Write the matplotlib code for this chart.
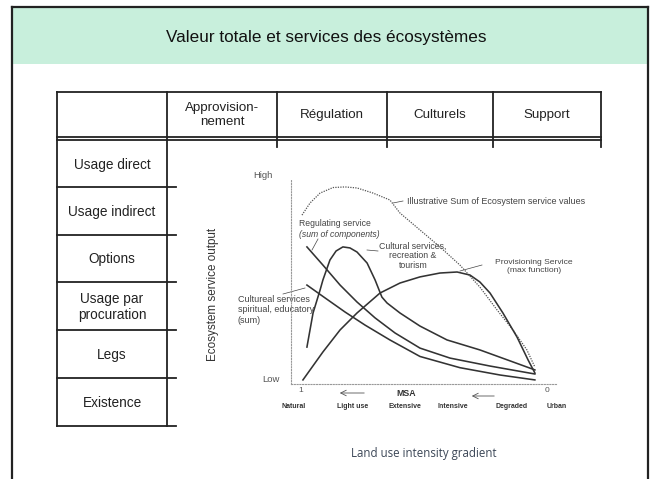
import matplotlib as mpl
import matplotlib.pyplot as plt

# table text
col_labels = ['Approvision-\nnement', 'Régulation', 'Culturels', 'Support']
row_labels = ['Usage direct', 'Usage indirect', 'Options',
              'Usage par\nprocuration', 'Legs', 'Existence']

# curves (x: land use intensity 0..1, y: output 0..1)
sum_x = [0.0, 0.034, 0.077, 0.132, 0.183, 0.234, 0.302, 0.374, 0.417, 0.502,
         0.587, 0.672, 0.757, 0.83, 0.898, 0.957, 0.991]
sum_y = [0.828, 0.887, 0.936, 0.963, 0.966, 0.961, 0.936, 0.902, 0.838, 0.755,
         0.672, 0.583, 0.475, 0.363, 0.265, 0.167, 0.083]

prov_x = [0.004, 0.089, 0.162, 0.234, 0.332, 0.417, 0.502, 0.587, 0.66, 0.715,
          0.757, 0.8, 0.855, 0.915, 0.962, 0.991]
prov_y = [0.02, 0.157, 0.265, 0.348, 0.446, 0.495, 0.525, 0.544, 0.549, 0.534,
          0.5, 0.446, 0.348, 0.23, 0.118, 0.054]

reg_x = [0.021, 0.089, 0.162, 0.234, 0.311, 0.396, 0.502, 0.63, 0.8, 0.991]
reg_y = [0.672, 0.583, 0.485, 0.402, 0.324, 0.25, 0.176, 0.127, 0.088, 0.049]

spir_x = [0.021, 0.098, 0.183, 0.268, 0.374, 0.502, 0.672, 0.843, 0.991]
spir_y = [0.485, 0.422, 0.353, 0.289, 0.216, 0.135, 0.08, 0.044, 0.02]

rec_x = [0.021, 0.047, 0.077, 0.089, 0.119, 0.145, 0.174, 0.204, 0.234, 0.277,
         0.311, 0.34, 0.362, 0.417, 0.502, 0.617, 0.757, 0.898, 0.991]
rec_y = [0.181, 0.348, 0.461, 0.51, 0.608, 0.652, 0.672, 0.667, 0.647, 0.593,
         0.51, 0.426, 0.397, 0.348, 0.284, 0.216, 0.167, 0.108, 0.069]

intensity = ['Natural', 'Light use', 'Extensive', 'Intensive', 'Degraded', 'Urban']

mpl.rcParams['font.family'] = 'Liberation Sans'

W, H = 651, 479
fig = plt.figure(figsize=(W / 100, H / 100), dpi=100)

# slide layer in pixel coords
bg = fig.add_axes([0, 0, 1, 1])
bg.set_xlim(0, W)
bg.set_ylim(H, 0)
bg.axis('off')

bg.fill_between([12, 648], 8, 64, color='#c8efdc', lw=0)
bg.plot([12, 648], [7, 7], color='#222', lw=1.6)
bg.plot([12, 12], [7, H], color='#222', lw=1.6)
bg.plot([648, 648], [7, H], color='#222', lw=1.6)
bg.text(326, 37, 'Valeur totale et services des écosystèmes',
        ha='center', va='center', fontsize=12.3, color='#111')

# table
tk = dict(color='#222', lw=1.3)
cols = [57, 167, 277, 387, 493, 601]
bg.plot([57, 601], [92, 92], **tk)
bg.plot([57, 601], [137, 137], **tk)
bg.plot([57, 601], [140, 140], **tk)
for cx in cols[2:]:
    bg.plot([cx, cx], [92, 147], **tk)
bg.plot([57, 57], [92, 426], **tk)
bg.plot([167, 167], [92, 426], **tk)
for i, lab in enumerate(col_labels):
    bg.text((cols[i + 1] + cols[i + 2]) / 2, 115, lab, ha='center', va='center',
            fontsize=9.6, color='#222', linespacing=1.15)
row_edges = [140, 187, 235, 282, 330, 378, 426]
for ry in row_edges[1:]:
    bg.plot([57, 176], [ry, ry], **tk)
for i, lab in enumerate(row_labels):
    bg.text(112, (row_edges[i] + row_edges[i + 1]) / 2 + 1, lab,
            ha='center', va='center', fontsize=9.8, color='#222',
            linespacing=1.15)

# chart
ax = fig.add_axes([291 / W, 1 - 384 / H, 265 / W, 204 / H])
ax.set_xlim(-11 / 235, 254 / 235)
ax.set_ylim(0, 1)
ax.patch.set_alpha(0)
for s in ['top', 'right']:
    ax.spines[s].set_visible(False)
for s in ['left', 'bottom']:
    ax.spines[s].set_linestyle((0, (1, 1.5)))
    ax.spines[s].set_color('#999')
    ax.spines[s].set_linewidth(0.8)
ax.set_xticks([])
ax.set_yticks([])

lc = '#333'
ax.plot(sum_x, sum_y, color='#555', lw=0.9, ls=(0, (1, 1)))
ax.plot(prov_x, prov_y, color=lc, lw=1.15)
ax.plot(reg_x, reg_y, color=lc, lw=1.15)
ax.plot(spir_x, spir_y, color=lc, lw=1.15)
ax.plot(rec_x, rec_y, color=lc, lw=1.15)

# chart labels
gc = '#555'
bg.text(253, 175, 'High', fontsize=6.8, color=gc, va='center')
bg.text(262, 380, 'Low', fontsize=6.8, color=gc, va='center')
bg.text(301, 391, '1', fontsize=6, color=gc, ha='center', va='center')
bg.text(547, 391, '0', fontsize=6, color=gc, ha='center', va='center')
bg.text(406, 394, 'MSA', fontsize=6.3, color='#333', ha='center', va='center',
        fontweight='bold')
bg.annotate('', xy=(337, 393), xytext=(367, 393),
            arrowprops=dict(arrowstyle='->', lw=0.6, color='#555'))
bg.annotate('', xy=(469, 396), xytext=(497, 396),
            arrowprops=dict(arrowstyle='->', lw=0.6, color='#555'))
for px, lab in zip([294, 353, 405, 453, 512, 557], intensity):
    bg.text(px, 407, lab, fontsize=5, color='#333', ha='center',
            va='center', fontweight='bold')
bg.text(213, 294, 'Ecosystem service output', rotation=90, fontsize=8.4,
        color='#333', ha='center', va='center')
bg.text(424, 453, 'Land use intensity gradient', fontsize=8.3, color='#3b4656',
        ha='center', va='center', family='Open Sans')

# annotations
ac = '#444'
bg.text(407, 202, 'Illustrative Sum of Ecosystem service values', fontsize=6.5,
        color=ac, va='center')
bg.plot([393, 403], [203, 201], color=ac, lw=0.5)
bg.text(299, 223, 'Regulating service', fontsize=6.2, color=ac, va='center')
bg.text(299, 234, '(sum of components)', fontsize=6.2, color=ac,
        va='center', style='italic')
bg.plot([318, 312], [239, 250], color=ac, lw=0.5)
bg.text(413, 256, 'Cultural services,\nrecreation &\ntourism', fontsize=6.3,
        color=ac, ha='center', va='center', linespacing=1.1)
bg.plot([367, 378], [250, 251], color=ac, lw=0.5)
bg.text(534, 266, 'Provisioning Service\n(max function)', fontsize=6.1,
        color=ac, ha='center', va='center', linespacing=1.2)
bg.plot([460, 482], [271, 265], color=ac, lw=0.5)
bg.text(238, 310, 'Cultureal services\nspiritual, educatory\n(sum)', fontsize=6.5,
        color=ac, ha='left', va='center', linespacing=1.2)
bg.plot([283, 305], [294, 288], color=ac, lw=0.5)

plt.savefig('out.png', dpi=100)
